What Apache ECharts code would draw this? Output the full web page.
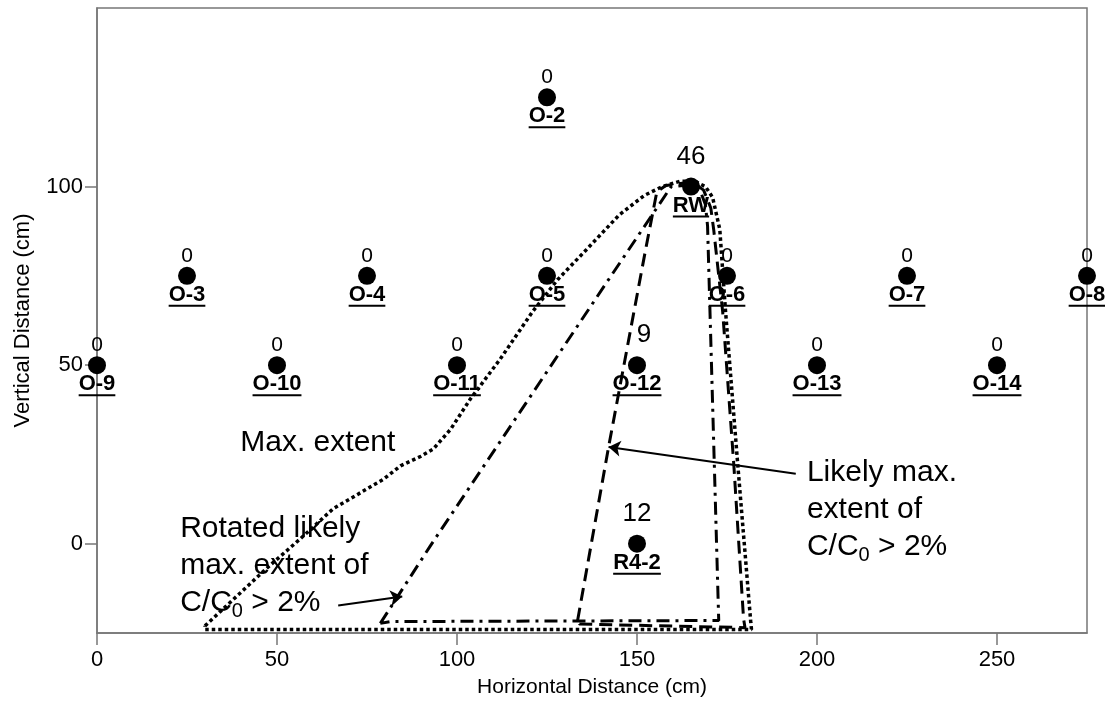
<!DOCTYPE html>
<html>
<head>
<meta charset="utf-8">
<script src="https://cdn.jsdelivr.net/npm/echarts@6.0.0/dist/echarts.min.js"></script>
<style>
    html, body { margin: 0; padding: 0; background: #fff; }
    #chart { width: 1105px; height: 712px; }
</style>
</head>
<body>
<div id="chart"></div>
<script>
// sampling points (cm) and measured C/C0 values
let stationNames = ['O-2', 'RW', 'O-3', 'O-4', 'O-5', 'O-6', 'O-7', 'O-8',
    'O-9', 'O-10', 'O-11', 'O-12', 'O-13', 'O-14', 'R4-2'];
let stationX = [125, 165, 25, 75, 125, 175, 225, 275, 0, 50, 100, 150, 200, 250, 150];
let stationY = [125, 100, 75, 75, 75, 75, 75, 75, 50, 50, 50, 50, 50, 50, 0];
let stationValues = [0, 46, 0, 0, 0, 0, 0, 0, 0, 0, 0, 9, 0, 0, 12];

// outlines
let maxExtent = [[30, -23], [47, -7], [56.5, 1.4], [65.6, 9.8], [79.5, 18], [84.3, 21.8], [90, 24.5],
    [93.4, 26.5], [98.2, 32], [103.7, 40.5], [112, 51.7], [121, 65], [128, 74], [136, 82.4],
    [145, 92], [152, 97.5], [157, 100], [162, 101.5], [166, 101.5], [169, 100], [171, 97],
    [173, 88], [174.6, 65], [178, 22], [181.6, -22], [181.8, -24], [30, -24], [30, -23]];
let likelyExtent = [[133.5, -21.5], [142, 26.5], [152.4, 82.4], [155.5, 98.5], [158, 100.3],
    [163, 101], [166.5, 100.5], [168.5, 99], [170.5, 94], [171.3, 88], [173.8, 65], [176.9, 22],
    [179.6, -21], [180, -23.5], [134, -22.5], [133.5, -21.5]];
let rotatedExtent = [[78.7, -22.3], [92.6, -0.6], [141.8, 73.5], [159.5, 100], [165, 100.5],
    [167.5, 99], [169, 95], [169.6, 89], [172.7, -21.5], [81.5, -21.8], [78.7, -22.3]];

// annotations: x, y of the text's left middle, then text
let noteX = [39.8, 23.1, 197.2];
let noteY = [28.2, -6.1, 9.5];
let noteTexts = [
    'Max. extent',
    'Rotated likely\nmax. extent of\nC/C{sub|0} > 2%',
    'Likely max.\nextent of\nC/C{sub|0} > 2%'
];
let arrows = [
    [[194.1, 19.6], [142.1, 27.1]],
    [[67, -17.3], [84.8, -14.8]]
];

let xTicks = [0, 50, 100, 150, 200, 250];
let yTicks = [0, 50, 100];

let fontFamily = '"Liberation Sans", Arial, sans-serif';
let measureCtx = document.createElement('canvas').getContext('2d');
let textWidth = function (s, font) {
    measureCtx.font = font;
    return measureCtx.measureText(s).width;
};

let chart = echarts.init(document.getElementById('chart'));

let stationData = stationX.map((x, i) => [x, stationY[i], stationValues[i]]);
let noteData = noteX.map((x, i) => [x, noteY[i]]);

let renderStation = function (params, api) {
    let p = api.coord([api.value(0), api.value(1)]);
    let val = api.value(2);
    let name = stationNames[params.dataIndex];
    let big = val > 0;
    let valueFont = (big ? 26 : 21) + 'px ' + fontFamily;
    let nameFont = 'bold 22px ' + fontFamily;
    let w = textWidth(name, nameFont);
    return {
        type: 'group',
        children: [
            {type: 'circle', shape: {cx: p[0], cy: p[1], r: 9}, style: {fill: '#000'}},
            {
                type: 'text', x: p[0] + (val === 9 ? 7 : 0), y: p[1] - (big ? 30 : 20),
                style: {text: String(val), font: valueFont, fill: '#000', align: 'center', verticalAlign: 'middle'}
            },
            {
                type: 'text', x: p[0], y: p[1] + 19,
                style: {text: name, font: nameFont, fill: '#000', align: 'center', verticalAlign: 'middle'}
            },
            {type: 'rect', shape: {x: p[0] - w / 2, y: p[1] + 29, width: w, height: 2}, style: {fill: '#000'}}
        ]
    };
};

let renderNote = function (params, api) {
    let p = api.coord([api.value(0), api.value(1)]);
    return {
        type: 'text',
        x: p[0],
        y: p[1],
        style: {
            text: noteTexts[params.dataIndex],
            fontFamily: fontFamily,
            fontSize: 30,
            lineHeight: 37,
            fill: '#000',
            align: 'left',
            verticalAlign: 'middle',
            rich: {
                sub: {fontFamily: fontFamily, fontSize: 20, lineHeight: 14, verticalAlign: 'bottom', fill: '#000'}
            }
        }
    };
};

let outline = function (name, data, dash, width) {
    return {
        name: name,
        type: 'line',
        data: data,
        showSymbol: false,
        symbol: 'none',
        clip: false,
        lineStyle: {color: '#000', width: width, type: dash, cap: 'butt'},
        z: 3
    };
};

let option = {
    animation: false,
    textStyle: {fontFamily: fontFamily, color: '#000'},
    grid: {left: 97, right: 18, top: 8, bottom: 79, show: true, borderColor: '#777', borderWidth: 1.5},
    xAxis: {
        type: 'value', min: 0, max: 275,
        name: 'Horizontal Distance (cm)', nameLocation: 'middle', nameGap: 44,
        nameTextStyle: {fontSize: 21, color: '#000'},
        axisLine: {onZero: false, lineStyle: {color: '#777', width: 1.5}},
        axisTick: {length: 12, customValues: xTicks, lineStyle: {color: '#777', width: 1.5}},
        axisLabel: {customValues: xTicks, fontSize: 22, color: '#000', margin: 16},
        splitLine: {show: false}
    },
    yAxis: {
        type: 'value', min: -25, max: 150,
        name: 'Vertical Distance (cm)', nameLocation: 'middle', nameGap: 63,
        nameTextStyle: {fontSize: 22, color: '#000'},
        axisLine: {onZero: false, lineStyle: {color: '#777', width: 1.5}},
        axisTick: {length: 12, customValues: yTicks, lineStyle: {color: '#777', width: 1.5}},
        axisLabel: {customValues: yTicks, fontSize: 22, color: '#000', margin: 14},
        splitLine: {show: false}
    },
    series: [
        {
            type: 'custom',
            data: stationData,
            renderItem: renderStation,
            clip: false,
            z: 2
        },
        outline('Max. extent', maxExtent, [3.5, 3], 3.5),
        outline('Likely max. extent', likelyExtent, [13, 7], 3),
        outline('Rotated likely max. extent', rotatedExtent, [13, 6, 3, 6], 3),
        {
            type: 'lines',
            coordinateSystem: 'cartesian2d',
            data: arrows.map(a => ({coords: a})),
            symbol: ['none', 'arrow'],
            symbolSize: [9, 12],
            lineStyle: {color: '#000', width: 2, opacity: 1},
            z: 4
        },
        {
            type: 'custom',
            data: noteData,
            renderItem: renderNote,
            clip: false,
            silent: true,
            z: 5
        }
    ]
};

chart.setOption(option);
</script>
</body>
</html>
